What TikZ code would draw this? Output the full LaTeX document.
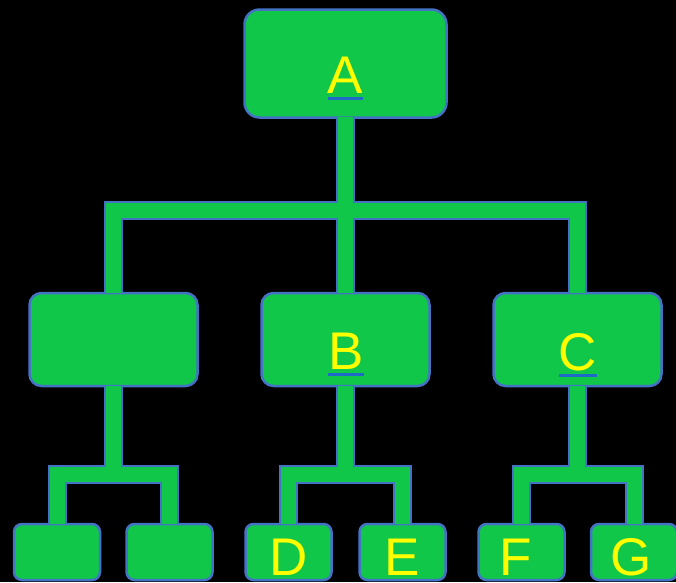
\documentclass[tikz,border=0pt]{standalone}
\usepackage{fontspec}
\setmainfont{Liberation Sans}
\definecolor{boxgreen}{RGB}{16,199,74}
\definecolor{edgeblue}{RGB}{68,114,196}
\definecolor{ulblue}{RGB}{31,105,200}
\definecolor{txtyellow}{RGB}{255,255,0}
\tikzset{
  box/.style={draw=edgeblue, fill=boxgreen, line width=2.5pt, rectangle, inner sep=0pt},
  bigbox/.style={box, rounded corners=15pt, minimum width=202pt, minimum height=108pt},
  midbox/.style={box, rounded corners=12pt, minimum width=168pt, minimum height=93pt},
  smallbox/.style={box, rounded corners=8pt, minimum width=86pt, minimum height=56pt},
  conn/.style={draw=edgeblue, line width=2pt, double=boxgreen, double distance=15pt, line join=miter},
  lbl/.style={anchor=base, inner sep=0pt, text=txtyellow, font=\fontsize{53}{53}\selectfont},
  ul/.style={draw=ulblue, line width=3pt}
}
\begin{document}
\begin{tikzpicture}[x=1pt,y=-1pt]
\fill[black] (0,0) rectangle (676,582);
\useasboundingbox (0,0) rectangle (676,582);
% boxes
\node[bigbox] (A) at (345.5,63.5) {};
\node[midbox] (L) at (113.5,339.5) {};
\node[midbox] (B) at (345.5,339.5) {};
\node[midbox] (C) at (577.5,339.5) {};
\node[smallbox] (L1) at (57,552) {};
\node[smallbox] (L2) at (169.5,552) {};
\node[smallbox] (D) at (288.5,552) {};
\node[smallbox] (E) at (402.5,552) {};
\node[smallbox] (F) at (521.5,552) {};
\node[smallbox] (G) at (634,552) {};
% junction points
\coordinate (barA) at (345.5,210.5);
\coordinate (barL) at (113.5,474);
\coordinate (barB) at (345.5,474);
\coordinate (barC) at (577.5,474);
% connectors
\draw[conn] ([yshift=1.5pt]A.south) -- (barA)
  ([yshift=-1.5pt]L.north) -- (L.north |- barA) -- (C.north |- barA) -- ([yshift=-1.5pt]C.north)
  (barA) -- ([yshift=-1.5pt]B.north);
\draw[conn] ([yshift=1.5pt]L.south) -- (barL)
  ([yshift=-1.5pt]L1.north) -- (L1.north |- barL) -- (L2.north |- barL) -- ([yshift=-1.5pt]L2.north);
\draw[conn] ([yshift=1.5pt]B.south) -- (barB)
  ([yshift=-1.5pt]D.north) -- (D.north |- barB) -- (E.north |- barB) -- ([yshift=-1.5pt]E.north);
\draw[conn] ([yshift=1.5pt]C.south) -- (barC)
  ([yshift=-1.5pt]F.north) -- (F.north |- barC) -- (G.north |- barC) -- ([yshift=-1.5pt]G.north);
% labels
\node[lbl] (At) at (345.5,93) {A};
\node[lbl] (Bt) at (346,369) {B};
\node[lbl] (Ct) at (578,370) {C};
\node[lbl] (Dt) at (288.5,575) {D};
\node[lbl] (Et) at (402.5,575) {E};
\node[lbl] (Ft) at (516,575) {F};
\node[lbl] (Gt) at (631,575) {G};
\draw[ul] ([yshift=-5pt]At.base west) -- ([yshift=-5pt]At.base east);
\draw[ul] ([yshift=-5pt]Bt.base west) -- ([yshift=-5pt]Bt.base east);
\draw[ul] ([yshift=-5pt]Ct.base west) -- ([yshift=-5pt]Ct.base east);
\end{tikzpicture}
\end{document}
